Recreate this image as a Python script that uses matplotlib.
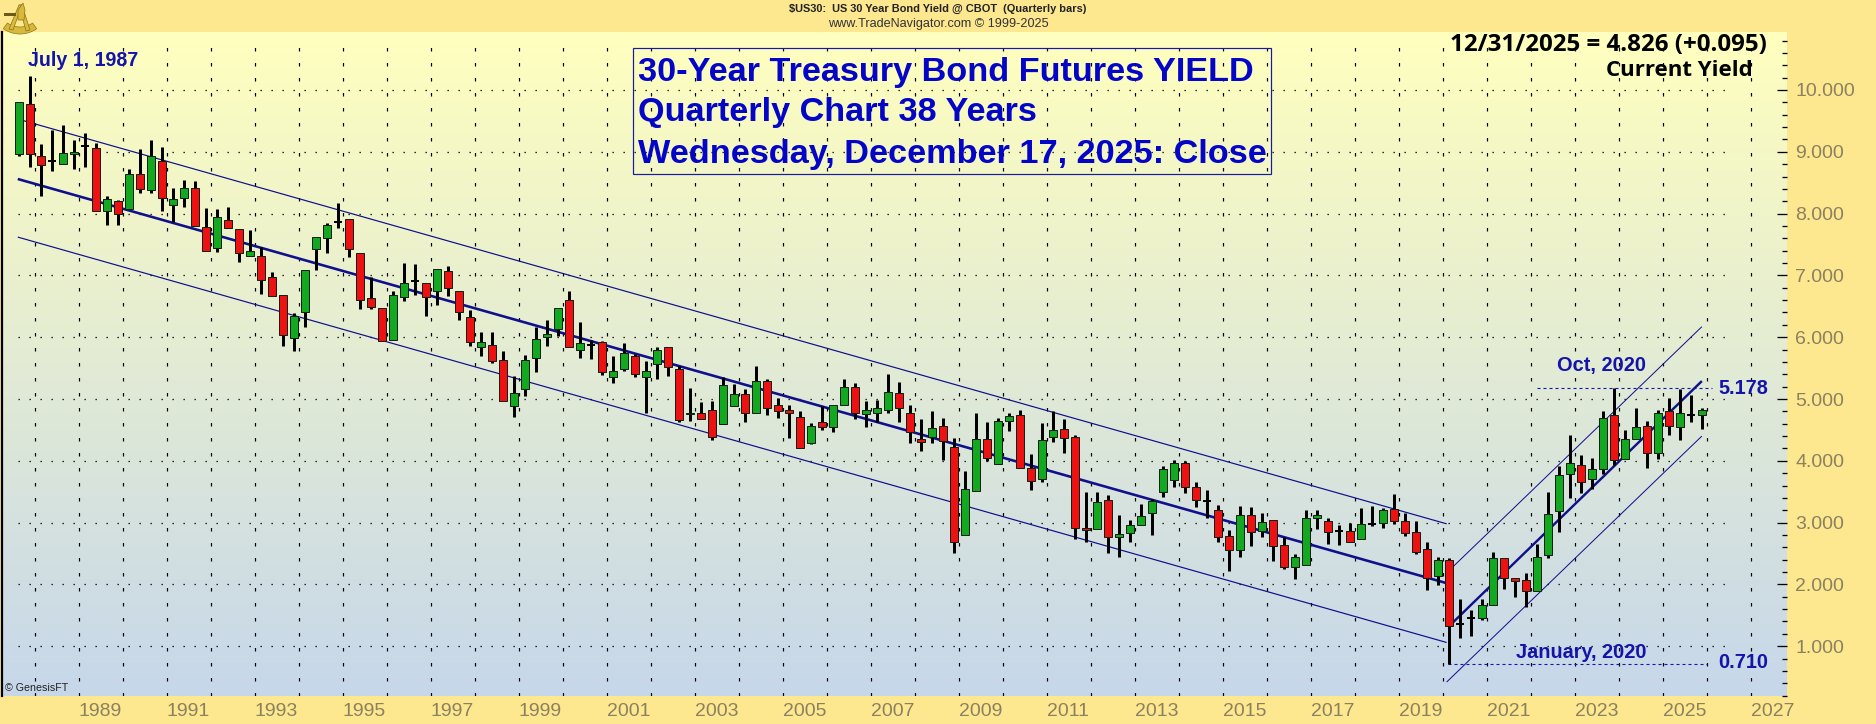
import numpy as np
import matplotlib
matplotlib.use("Agg")
import matplotlib.pyplot as plt
from matplotlib.patches import Polygon, Wedge, Rectangle

# ---- data: quarterly bars from Q3 1987 to Q4 2025 ----
first_bar_year = 1987.64
bar_step = 0.25
opens = [8.96,9.78,8.93,8.85,8.81,8.96,9.10,9.06,8.05,8.21,8.07,8.64,8.38,8.85,8.14,8.26,8.42,7.79,7.45,7.89,
         7.75,7.32,7.32,6.97,6.68,5.98,6.40,7.42,7.60,7.87,7.92,7.37,6.63,6.47,5.95,6.65,6.91,6.87,6.74,7.07,
         6.74,6.32,5.84,5.88,5.63,4.88,5.16,5.67,6.01,6.13,6.61,5.80,5.88,5.93,5.35,5.49,5.69,5.36,5.56,5.84,
         5.48,4.75,4.78,4.83,4.59,4.88,5.08,4.77,5.29,4.90,4.82,4.71,4.29,4.62,4.55,4.90,5.20,4.75,4.78,4.83,
         5.09,4.78,4.36,4.39,4.56,4.22,2.80,3.51,4.35,3.95,4.65,4.74,3.89,3.71,4.39,4.51,4.38,2.92,2.89,3.36,
         2.76,2.83,2.96,3.15,3.50,3.69,3.96,3.57,3.35,3.21,2.78,2.55,3.13,2.86,3.04,2.63,2.28,2.32,3.07,3.02,
         2.87,2.87,2.74,2.98,2.99,3.22,3.02,2.84,2.57,2.13,2.39,1.36,1.45,1.46,1.66,2.42,2.10,2.07,1.90,2.47,
         3.19,3.78,3.94,3.70,3.86,4.74,4.03,4.35,4.57,4.12,4.80,4.55,4.74,4.74]
highs = [9.80,10.23,9.12,9.35,9.44,9.19,9.30,9.14,8.29,8.22,8.72,9.05,9.19,9.08,8.41,8.54,8.52,8.09,8.07,8.10,
         7.75,7.73,7.46,7.05,6.68,6.39,7.08,7.62,7.84,8.17,7.92,7.37,6.97,6.47,6.74,7.20,7.18,6.88,7.10,7.16,
         6.74,6.44,6.08,6.08,5.78,5.38,5.71,6.16,6.28,6.48,6.74,6.24,5.95,5.94,5.70,5.90,5.73,5.61,5.84,5.84,
         5.53,5.18,4.95,4.96,5.35,5.24,5.16,5.53,5.32,5.01,4.90,4.80,4.61,4.89,4.90,5.32,5.26,4.96,4.99,5.40,
         5.28,4.91,4.67,4.80,4.70,4.37,3.84,4.77,4.62,4.69,4.77,4.83,4.11,4.61,4.80,4.67,4.41,3.49,3.49,3.44,
         3.12,3.04,3.30,3.38,3.91,4.01,4.00,3.65,3.53,3.28,2.88,3.27,3.25,3.15,3.04,2.77,2.50,3.21,3.21,3.07,
         2.96,3.00,3.23,3.27,3.23,3.46,3.15,3.02,2.68,2.44,2.42,1.76,1.59,1.76,2.52,2.42,2.10,2.18,2.65,3.49,
         3.92,4.42,4.10,4.04,4.81,5.178,4.50,4.85,4.65,4.83,5.01,5.16,5.06,4.86]
lows = [8.93,8.76,8.29,8.69,8.81,8.72,8.76,8.05,7.82,7.82,8.07,8.34,8.34,8.05,7.87,8.10,7.80,7.39,7.38,7.76,
        7.22,7.32,6.70,6.67,5.85,5.77,6.17,7.09,7.37,7.76,7.30,6.46,6.46,5.94,5.95,6.59,6.68,6.34,6.52,6.66,
        6.28,5.86,5.70,5.59,4.97,4.71,5.05,5.44,5.85,6.02,5.84,5.67,5.65,5.39,5.26,5.46,5.35,4.78,5.33,5.38,
        4.63,4.65,4.67,4.34,4.59,4.88,4.63,4.77,4.74,4.70,4.37,4.20,4.27,4.50,4.47,4.90,4.68,4.54,4.63,4.78,
        4.63,4.29,4.16,4.29,4.01,2.51,2.80,3.51,4.00,3.95,4.48,3.89,3.52,3.66,4.30,4.13,2.74,2.69,2.89,2.51,
        2.45,2.69,2.96,2.80,3.42,3.57,3.48,3.26,3.08,2.68,2.22,2.45,2.62,2.76,2.38,2.25,2.09,2.32,2.89,2.66,
        2.64,2.68,2.74,2.95,2.92,2.97,2.79,2.49,1.91,1.99,0.71,1.14,1.17,1.43,1.66,1.93,1.79,1.63,1.90,2.42,
        2.85,3.40,3.48,3.54,3.79,3.93,4.03,4.35,3.89,4.03,4.42,4.34,4.62,4.52]
closes = [9.80,8.96,8.78,8.85,8.98,8.99,9.10,8.05,8.23,7.99,8.64,8.40,8.94,8.25,8.23,8.41,7.80,7.39,7.95,7.77,
          7.37,7.39,6.92,6.67,6.03,6.34,7.08,7.62,7.81,7.87,7.42,6.61,6.49,5.94,6.68,6.88,6.91,6.65,7.10,6.79,
          6.40,5.92,5.93,5.62,4.97,5.09,5.63,5.97,6.05,6.48,5.84,5.90,5.88,5.44,5.45,5.75,5.40,5.46,5.80,5.51,
          4.66,4.78,4.68,4.39,5.22,5.08,4.77,5.29,4.85,4.81,4.77,4.20,4.57,4.54,4.90,5.19,4.77,4.82,4.85,5.12,
          4.85,4.46,4.31,4.53,4.32,2.68,3.54,4.35,4.04,4.64,4.72,3.89,3.68,4.33,4.50,4.37,2.92,2.88,3.34,2.76,
          2.82,2.96,3.10,3.35,3.87,3.96,3.57,3.36,3.35,2.76,2.55,3.12,2.85,3.01,2.62,2.28,2.45,3.07,3.12,2.84,
          2.87,2.69,2.97,2.98,3.21,3.02,2.83,2.53,2.11,2.39,1.33,1.36,1.45,1.66,2.42,2.10,2.05,1.90,2.45,3.14,
          3.77,3.97,3.65,3.86,4.70,4.02,4.35,4.55,4.12,4.78,4.57,4.78,4.74,4.826]

down_mid_bars = [-0.1, 129.8]
down_mid = [8.56, 2.02]
down_up = [9.53, 2.98]
down_lo = [7.62, 1.06]
up_mid_bars = [130.4, 153.0]
up_mid = [1.39, 5.29]
up_up_bars = [130.4, 153.0]
up_up = [2.29, 6.17]
up_lo_bars = [129.8, 153.0]
up_lo = [0.42, 4.40]

high_level = 5.178
low_level = 0.710
year_labels = list(range(1989, 2028, 2))
value_ticks = list(range(1, 11))

NAVY = "#10108c"
BLUE = "#1414aa"
TICKC = "#8b8160"
FRAME = "#fde78f"

W, H = 1876, 724
fig = plt.figure(figsize=(W/100, H/100), dpi=100, facecolor=FRAME)
renderer = fig.canvas.get_renderer()
L, R, T, B = 2, 1787, 32, 696
ax = fig.add_axes([L/W, 1-B/H, (R-L)/W, (B-T)/H])
YT, YB = 10+58/61.8, 10-606/61.8
XL, XR = 1989+(L-78.7)/44, 1989+(R-78.7)/44
ax.set_xlim(XL, XR); ax.set_ylim(YB, YT)
ax.set_facecolor("none")

top = np.array([255, 255, 190])/255; bot = np.array([198, 215, 234])/255
grad = np.linspace(0, 1, 256)[:, None, None]*(bot-top)+top
ax.imshow(grad, extent=[XL, XR, YB, YT], aspect="auto", zorder=0, origin="upper")

for s in ["top", "right", "bottom"]:
    ax.spines[s].set_visible(False)
ax.spines["left"].set_linewidth(1.6); ax.spines["left"].set_color("black")

px = 0.72
plt.rcParams["lines.scale_dashes"] = False
# grid
ygrid = value_ticks
xg0 = first_bar_year-0.02
for v in ygrid:
    ax.plot([xg0, 2026.44], [v, v], color="black", lw=1.3*px, ls=(0, (1.3*px, 9.7*px)), zorder=1, scalex=False, scaley=False)
for yr in range(1988, 2028):
    ax.plot([yr, yr], [YB, YT-8/61.8], color="black", lw=1.2*px, ls=(0, (3.5*px, 11.5*px)), zorder=1, scalex=False, scaley=False)

# y ticks drawn by axis on the right (pointing inward)
ax.yaxis.tick_right()
ax.set_yticks(value_ticks)
ax.set_yticklabels([f"{v:.3f}" for v in value_ticks], fontsize=14, color=TICKC, family="Liberation Sans")
ax.set_yticks(np.arange(0.2, 10.95, 0.2), minor=True)
ax.tick_params(axis="y", which="major", direction="in", length=10*px, width=1.3*px, color="black", pad=6)
ax.tick_params(axis="y", which="minor", direction="in", length=5*px, width=1.3*px, color="black")
ax.set_xticks(year_labels)
ax.set_xticklabels([str(y) for y in year_labels], fontsize=14, color=TICKC, family="Liberation Sans", ha="left")
ax.tick_params(axis="x", length=0, pad=5)

def bar_year(i):
    return first_bar_year+np.asarray(i, dtype=float)*bar_step

# channels
for xs, ys, lw in [(down_mid_bars, down_mid, 2.6), (down_mid_bars, down_up, 1.2), (down_mid_bars, down_lo, 1.2),
                   (up_mid_bars, up_mid, 2.4), (up_up_bars, up_up, 1.0), (up_lo_bars, up_lo, 1.0)]:
    ax.plot(bar_year(xs), ys, color=NAVY, lw=lw*px, zorder=2, solid_capstyle="butt")

# level lines
ax.plot(bar_year([138.0, 153.9]), [high_level]*2, color=BLUE, lw=1.1*px, ls=(0, (3*px, 3*px)), zorder=2)
ax.plot(bar_year([129.9, 153.5]), [low_level]*2, color=BLUE, lw=1.1*px, ls=(0, (3*px, 3*px)), zorder=2)

# candles
xs = bar_year(np.arange(len(opens)))
o, h, l, c = map(np.array, (opens, highs, lows, closes))
ax.vlines(xs, l, h, color="black", lw=3*px, zorder=3)
colors = np.where(c > o, "#12a81f", "#ee1111")
doji = c == o
bw = 8/44
ax.bar(xs[~doji], np.abs(c-o)[~doji], bottom=np.minimum(o, c)[~doji], width=bw, color=colors[~doji],
       edgecolor="#142014", linewidth=1.0*px, zorder=4)
ax.hlines(o[doji], xs[doji]-bw/2, xs[doji]+bw/2, color="black", lw=2*px, zorder=4)

# overlay in pixel coordinates for page furniture
ov = fig.add_axes([0, 0, 1, 1], facecolor="none")
ov.set_xlim(0, W); ov.set_ylim(H, 0); ov.axis("off")

def fit(x, y, s, width, ha="left", **kw):
    t = ov.text(x, y, s, ha=ha, va="center", fontsize=10, **kw)
    bb = t.get_window_extent(renderer)
    t.set_fontsize(10*width/bb.width)
    return t

SANS = ["Liberation Sans", "DejaVu Sans"]
NARROW = ["Liberation Sans Narrow", "Liberation Sans", "DejaVu Sans"]
fit(938, 9, r"\$US30:  US 30 Year Bond Yield @ CBOT  (Quarterly bars)", 296, ha="center",
    family=NARROW, weight="bold", color="#222222")
fit(938, 24, "www.TradeNavigator.com © 1999-2025", 221, ha="center", family=NARROW, color="#333333")

fit(28, 61, "July 1, 1987", 111, family=SANS, weight="bold", color=BLUE)
ov.add_patch(Rectangle((633, 48), 638, 126, fill=False, ec="#1a1aa0", lw=1.2*px))
TB = "#0505c8"
fit(638, 72, "30-Year Treasury Bond Futures YIELD", 616, family=SANS, weight="bold", color=TB)
fit(638, 113, "Quarterly Chart 38 Years", 401, family=SANS, weight="bold", color=TB)
fit(638, 155, "Wednesday, December 17, 2025: Close", 630, family=SANS, weight="bold", color=TB)

fit(1450, 45, "12/31/2025 = 4.826 (+0.095)", 317, family=["Open Sans", "DejaVu Sans"], weight="bold", color="black")
fit(1606, 71, "Current Yield", 147, family=["Open Sans", "DejaVu Sans"], weight="bold", color="black")

fit(1557, 365, "Oct, 2020", 89, family=SANS, weight="bold", color=BLUE)
fit(1516, 652, "January, 2020", 130, family=SANS, weight="bold", color=BLUE)
fit(1718, 389, "5.178", 50, family=SANS, weight="bold", color=BLUE)
fit(1718, 663, "0.710", 50, family=SANS, weight="bold", color=BLUE)
fit(5, 688, "© GenesisFT", 63, family=SANS, color="#222222")

# sextant emblem
G = "#d9b93a"; D = "#8a7420"
ov.add_patch(Wedge((20, 5), 29, 55, 125, width=7, fc=G, ec=D, lw=0.5))
ov.add_patch(Polygon([[19, 5], [22, 5], [30, 30], [26, 31]], fc=G, ec=D, lw=0.5))
ov.add_patch(Polygon([[19, 5], [22, 5], [13, 30], [9, 29]], fc=G, ec=D, lw=0.5))
ov.add_patch(Rectangle((4, 13), 12, 3, fc="#6b5a18", ec="none"))
ov.add_patch(Polygon([[18, 10], [23, 3], [25, 10], [24, 20], [18, 20]], fc=G, ec=D, lw=0.5))

fig.savefig("out.png", dpi=100, facecolor=FRAME)
